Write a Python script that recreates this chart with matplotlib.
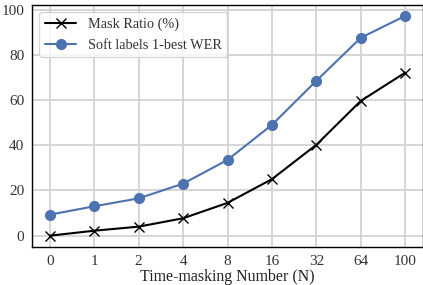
import matplotlib
matplotlib.use("Agg")
import matplotlib.pyplot as plt
import seaborn as sns

categories = ["0", "1", "2", "4", "8", "16", "32", "64", "100"]
mask_ratio = [0, 2.2, 4.0, 7.7, 14.5, 25.0, 40.2, 59.6, 72.1]
soft_wer = [9.3, 13.0, 16.5, 23.0, 33.5, 49.0, 68.5, 87.5, 97.2]

sns.set_style("whitegrid")
plt.rcParams['font.family'] = ['Liberation Serif', 'DejaVu Serif']

fig = plt.figure(figsize=(4.23, 2.85), dpi=100)
ax = fig.add_axes([32/423, 38/285, 391/423, 242/285])
x = list(range(len(categories)))
ax.plot(x, mask_ratio, color='black', marker='x', markersize=7, linewidth=1.5, label='Mask Ratio (%)')
ax.plot(x, soft_wer, color='#4c72b0', marker='o', markersize=7, linewidth=1.5, label='Soft labels 1-best WER')
ax.set_xticks(x)
ax.set_xticklabels(categories)
ax.set_xlim(-0.4, 8.4)
ax.set_ylim(-5, 102)
ax.set_yticks([0, 20, 40, 60, 80, 100])
ax.tick_params(labelsize=11, colors='#333333', pad=2)
ax.set_xlabel('Time-masking Number (N)', fontsize=11.4, color='#222222', labelpad=1)
for s in ax.spines.values():
    s.set_color('black')
    s.set_linewidth(1.0)
ax.grid(True, color='#d0d0d0', linewidth=1.2)
leg = ax.legend(loc='upper left', fontsize=10.3, frameon=True, borderaxespad=0.5,
                handlelength=2.2, labelcolor='#333333')
fig.savefig('out.png', dpi=100)
